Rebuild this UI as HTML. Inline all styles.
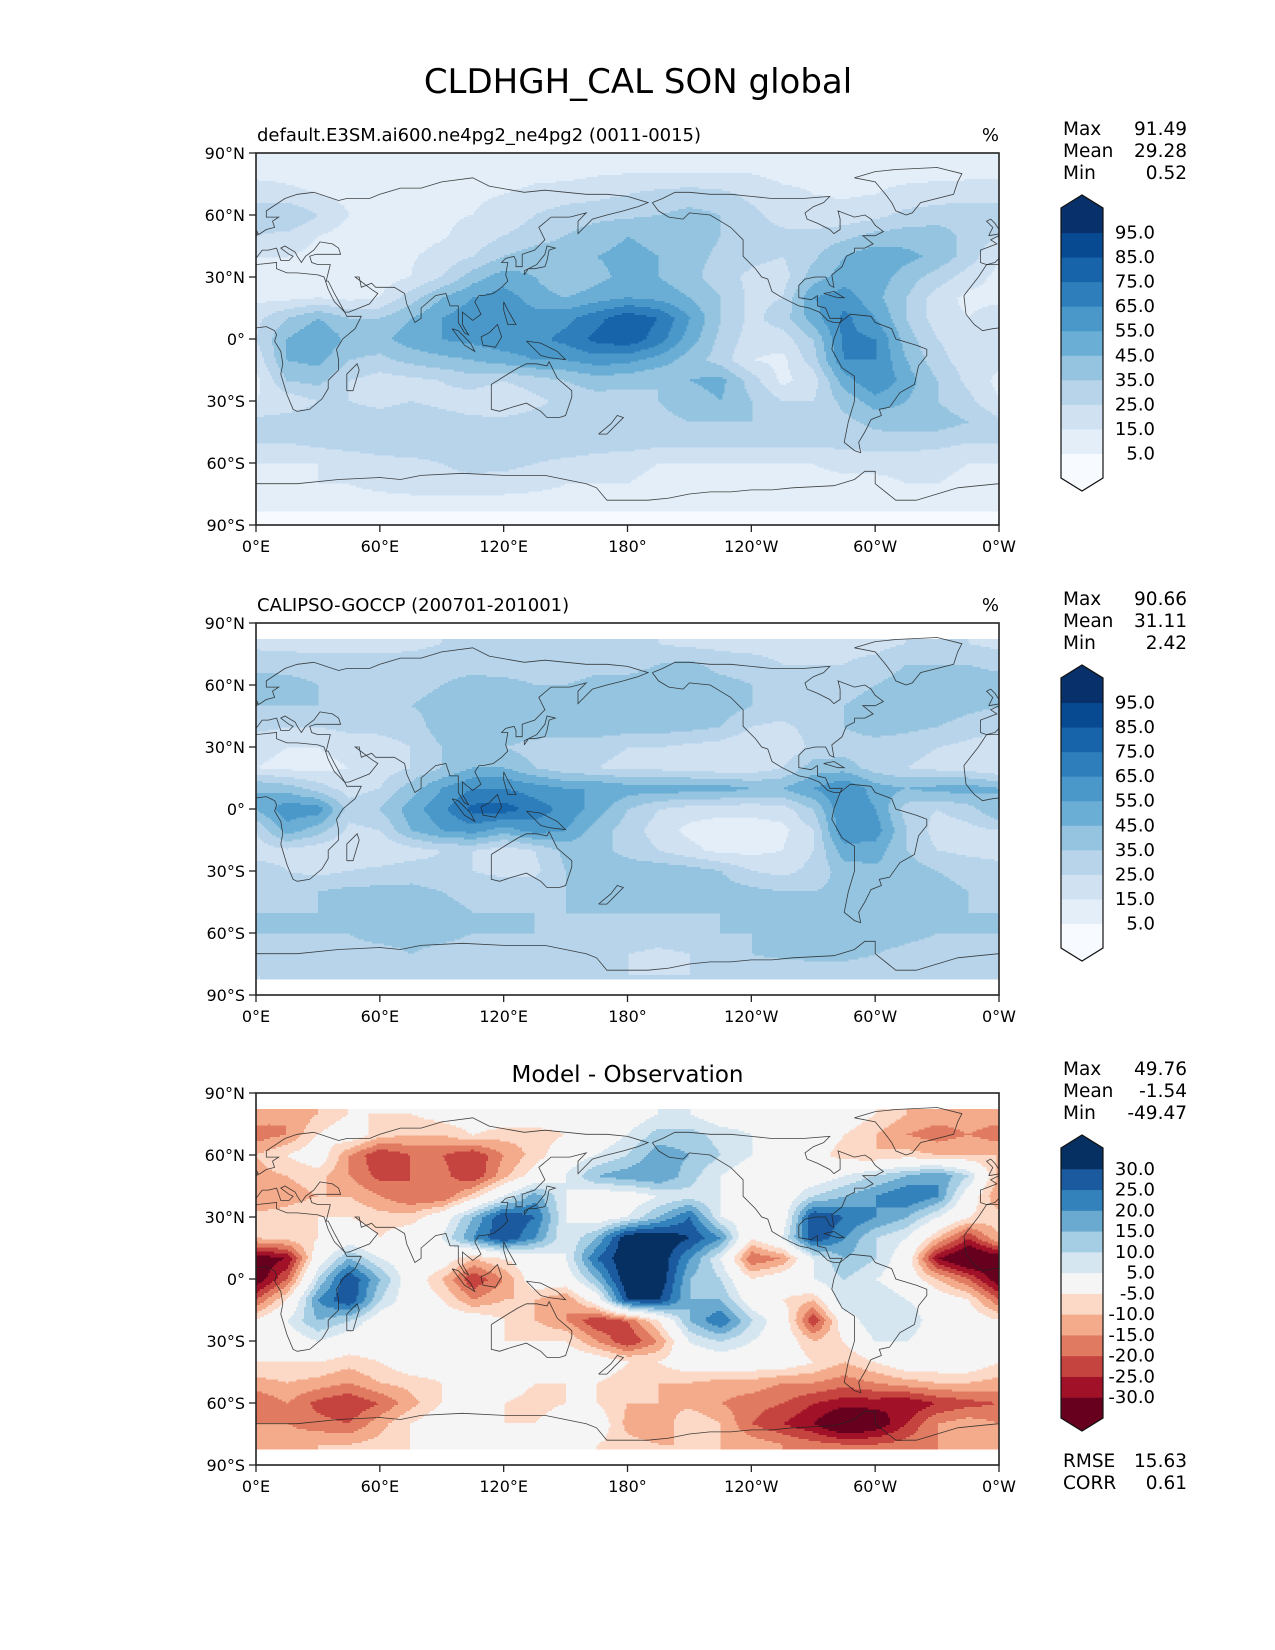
<!DOCTYPE html>
<html><head><meta charset="utf-8"><style>
html,body{margin:0;padding:0;background:#fff;}
svg{display:block;font-family:"DejaVu Sans","Liberation Sans",sans-serif;}
</style></head><body>
<svg id="fig" width="1275" height="1650" viewBox="0 0 1275 1650" xmlns="http://www.w3.org/2000/svg">
<text x="638" y="93" font-size="34" text-anchor="middle">CLDHGH_CAL SON global</text>
</svg>
<script>
// ---- data (grid: lat 90..-90 step 10, lon 0..345 step 15) ----
const gridLats = [90,80,70,60,50,40,30,20,10,0,-10,-20,-30,-40,-50,-60,-70,-80,-90];
const gridLons = [0,15,30,45,60,75,90,105,120,135,150,165,180,195,210,225,240,255,270,285,300,315,330,345];
const modelValues = [
[8,8,8,8,8,8,8,8,8,8,8,8,10,10,10,10,10,10,10,10,10,10,10,10],
[12,12,10,10,10,10,10,10,10,12,12,14,15,15,15,15,15,12,12,12,12,12,12,12],
[22,18,15,12,12,12,12,14,15,18,20,22,25,28,30,28,22,18,15,14,15,18,20,22],
[30,35,25,15,14,14,14,15,18,25,30,32,33,35,38,35,28,20,18,18,22,28,30,30],
[25,22,15,10,10,12,14,18,25,30,35,40,45,42,40,35,30,28,28,32,38,40,40,32],
[15,15,12,10,10,14,18,25,35,40,42,45,48,45,38,33,28,25,33,45,52,48,42,30],
[12,10,10,8,10,15,25,40,50,45,35,42,48,45,38,30,22,20,40,50,50,40,30,20],
[12,12,15,12,15,30,45,55,60,50,45,50,55,52,45,35,22,25,55,60,48,35,20,12],
[22,35,45,35,35,45,55,62,62,60,62,72,82,75,55,35,22,30,50,68,55,35,20,15],
[25,45,55,42,42,50,55,58,62,62,68,78,82,70,50,32,20,20,35,68,65,40,25,20],
[18,45,48,35,32,38,42,45,50,55,55,60,58,50,40,30,15,12,30,65,65,45,28,20],
[12,35,38,25,20,22,25,30,25,30,35,40,38,35,45,48,30,12,20,50,65,50,35,22],
[15,18,25,25,22,25,22,18,15,22,28,30,30,35,40,45,35,25,25,38,50,45,35,28],
[28,30,30,30,30,32,30,28,28,30,32,32,32,32,35,35,35,35,32,32,38,40,40,35],
[25,25,28,30,30,32,32,32,33,33,33,30,30,28,28,28,28,28,28,28,30,30,28,25],
[15,15,15,18,22,22,25,28,28,25,22,20,18,15,15,15,15,15,15,18,18,18,18,15],
[12,12,15,15,18,20,22,22,20,18,15,15,15,12,12,12,12,12,12,12,12,15,15,12],
[10,10,10,10,10,10,10,10,10,10,10,10,10,10,10,10,10,10,10,10,10,10,10,10],
[-5,-5,-5,-5,-5,-5,-5,-5,-5,-5,-5,-5,-5,-5,-5,-5,-5,-5,-5,-5,-5,-5,-5,-5]];
const obsValues = [
[22,22,22,22,22,22,25,25,25,25,25,25,25,25,22,22,22,22,22,22,22,25,25,25],
[22,22,22,22,22,22,25,25,25,25,25,25,25,25,22,22,22,22,22,22,22,25,25,25],
[32,30,28,28,28,30,32,32,30,30,30,32,30,35,38,30,28,25,25,25,28,35,35,35],
[40,40,35,32,30,32,35,38,38,35,35,38,40,42,45,40,35,32,30,30,35,40,40,40],
[35,35,35,32,32,35,38,40,40,42,42,42,45,45,42,40,35,32,32,35,40,42,42,38],
[28,25,25,28,28,30,40,45,45,42,42,42,40,40,38,35,25,22,30,35,40,38,35,30],
[18,15,15,18,20,25,35,35,35,30,28,28,25,25,22,20,15,15,28,30,30,28,25,22],
[15,12,12,15,20,25,35,45,45,35,28,25,22,22,20,18,18,25,40,40,30,25,22,20],
[45,40,30,20,25,40,55,65,65,60,55,55,50,50,50,50,45,45,55,65,50,45,48,50],
[45,62,60,30,35,50,62,78,80,70,62,50,35,25,20,18,18,20,35,65,55,30,25,30],
[25,50,40,22,25,45,55,60,50,60,55,40,30,20,12,10,10,12,25,65,60,35,20,22],
[20,22,18,15,15,20,25,25,18,25,38,38,32,25,18,12,12,15,25,50,50,35,25,22],
[30,25,22,25,28,30,28,25,22,22,35,40,40,42,40,35,25,22,28,40,42,40,35,32],
[32,32,35,38,38,38,35,32,32,32,35,38,40,40,40,40,38,35,35,38,40,40,38,35],
[35,35,35,38,38,38,38,35,35,35,35,35,35,35,35,35,35,35,35,35,38,38,38,35],
[35,35,35,35,38,38,38,35,35,35,32,32,32,32,32,35,35,38,40,42,40,38,35,35],
[30,30,30,32,32,35,32,30,30,28,25,25,25,22,25,30,35,38,40,40,35,32,30,30],
[25,25,25,25,25,25,25,25,25,25,25,25,25,25,25,25,25,25,25,25,25,25,25,25],
[25,25,25,25,25,25,25,25,25,25,25,25,25,25,25,25,25,25,25,25,25,25,25,25]];
const diffValues = [
[-12,-15,-10,-5,-5,-5,-2,0,0,0,0,0,0,5,5,0,0,0,0,0,-5,-10,-12,-12],
[-12,-15,-10,-5,-5,-5,-2,0,0,0,0,0,0,5,5,0,0,0,0,0,-5,-10,-12,-12],
[-18,-15,-5,0,-8,-10,-10,-5,-8,-8,-5,0,5,12,12,8,5,0,0,-5,-10,-15,-18,-15],
[-10,-5,0,-15,-25,-20,-20,-25,-15,-8,0,5,10,18,15,10,5,0,-2,-8,-10,-8,-10,-10],
[-12,-10,-8,-15,-22,-20,-18,-25,-12,-2,5,15,18,20,12,5,0,0,0,5,10,15,20,10],
[-15,-12,-10,-10,-15,-20,-20,-8,5,18,5,0,0,5,8,5,0,0,10,15,20,25,20,0],
[-8,-8,-5,-5,-8,-8,0,15,30,25,5,0,5,15,25,5,0,0,30,25,20,15,5,-5],
[-10,-8,-5,0,-5,0,5,20,30,20,5,15,35,35,30,20,-5,5,30,20,10,5,-10,-25],
[-35,-30,0,15,5,0,0,-10,-5,0,5,25,35,35,20,5,-20,-15,5,15,10,0,-30,-40],
[-35,-20,10,30,15,0,-10,-25,-15,0,0,15,35,35,15,10,-5,0,5,10,5,0,-10,-20],
[-20,-5,20,30,10,0,-5,-15,-10,-10,-15,0,30,30,15,15,0,-5,-10,10,10,5,0,-5],
[-5,5,15,10,0,0,0,0,-5,-10,-15,-25,-20,-5,15,25,10,0,-25,0,10,10,0,0],
[0,0,5,0,0,5,0,-5,-5,-5,-5,-15,-25,-15,5,10,5,0,-10,-5,5,5,0,0],
[-5,-5,-5,-8,-5,0,0,0,0,0,0,0,-5,-5,0,0,0,0,-5,-10,-5,0,0,0],
[-12,-10,-12,-15,-10,-8,-5,-5,0,-5,-5,-5,-8,-10,-10,-12,-12,-15,-15,-18,-15,-12,-10,-10],
[-20,-15,-22,-25,-20,-12,-5,-5,-5,-8,-5,-5,-10,-10,-12,-15,-18,-20,-25,-28,-28,-30,-25,-22],
[-15,-15,-18,-20,-12,-5,0,0,-5,-5,0,0,-12,-15,-5,-10,-20,-25,-30,-40,-35,-25,-15,-12],
[-12,-12,-10,-10,-8,-5,-5,-5,-5,-5,-5,-5,-8,-10,-10,-10,-12,-15,-18,-20,-20,-18,-15,-12],
[-12,-12,-10,-10,-8,-5,-5,-5,-5,-5,-5,-5,-8,-10,-10,-10,-12,-15,-18,-20,-20,-18,-15,-12]];
const fieldLevels = [5,15,25,35,45,55,65,75,85,95];
const fieldLabels = ["5.0","15.0","25.0","35.0","45.0","55.0","65.0","75.0","85.0","95.0"];
const diffLevels = [-30,-25,-20,-15,-10,-5,5,10,15,20,25,30];
const diffLabels = ["-30.0","-25.0","-20.0","-15.0","-10.0","-5.0","5.0","10.0","15.0","20.0","25.0","30.0"];
const xTickLons = [0,60,120,180,240,300,360];
const xTickLabels = ["0°E","60°E","120°E","180°","120°W","60°W","0°W"];
const yTickLats = [90,60,30,0,-30,-60,-90];
const yTickLabels = ["90°N","60°N","30°N","0°","30°S","60°S","90°S"];
const statsModel = ["91.49","29.28","0.52"];
const statsObs = ["90.66","31.11","2.42"];
const statsDiff = ["49.76","-1.54","-49.47"];
const diffMetrics = ["15.63","0.61"];

const BLUES = ['#f7fbff','#e3eef8','#d0e1f2','#b7d4ea','#94c4df','#6aaed6','#4a98c9','#2e7ebc','#1764ab','#084a91','#08306b'];
const RDBU = ['#67001f','#a11228','#c6443f','#e07b62','#f4ab8b','#fbd9c6','#f5f5f5','#d5e6f1','#a5cde3','#6aaad0','#3482bb','#1c5a9f','#053061'];

const coasts = [
[[-17,21],[-16,12],[-12,7],[-8,4],[-3,5],[5,6],[9,4],[10,2],[9,-1],[12,-6],[13,-12],[12,-17],[15,-27],[18,-34],[20,-35],[26,-34],[32,-29],[35,-24],[35,-20],[40,-15],[40,-10],[39,-5],[42,0],[48,5],[51,11],[44,11],[43,13],[38,18],[35,24],[33,30],[30,31],[20,32],[15,32],[10,34],[10,37],[0,36],[-6,36],[-10,30],[-17,21]],
[[44,-25],[47,-25],[50,-15],[49,-12],[44,-17],[44,-25]],
[[-9,37],[-9,43],[-1,46],[-4,48],[2,51],[5,53],[9,54],[8,57],[11,59],[5,59],[5,62],[14,68],[20,70],[28,71],[40,67],[44,68],[55,68],[60,70],[70,73],[80,73],[90,76],[105,78],[113,74],[130,71],[140,72],[160,70],[170,70],[180,69],[190,66],[185,64],[178,62],[170,60],[163,58],[156,51],[156,57],[160,61],[152,59],[143,59],[137,54],[140,48],[135,43],[129,41],[129,35],[126,35],[126,38],[125,40],[121,39],[119,37],[122,37],[121,31],[122,28],[119,25],[115,22],[110,21],[108,21],[106,18],[109,12],[105,9],[100,13],[100,7],[103,2],[101,3],[98,8],[98,16],[94,16],[92,22],[87,21],[80,15],[80,10],[77,8],[73,17],[72,22],[67,25],[58,25],[56,27],[51,25],[50,30],[48,30],[56,24],[59,22],[55,17],[45,13],[43,13],[38,22],[35,28],[34,28],[35,32],[36,36],[30,36],[27,37],[26,40],[29,41],[41,41],[40,44],[37,46],[31,47],[28,43],[24,40],[22,37],[20,40],[19,42],[14,45],[12,44],[16,41],[18,40],[16,38],[12,38],[10,44],[6,43],[3,43],[0,39],[-2,37],[-6,36],[-9,37]],
[[-5,50],[1,51],[0,53],[-2,56],[-4,58],[-6,57],[-3,54],[-5,50]],
[[130,31],[132,34],[135,34],[140,35],[141,38],[142,43],[145,44],[141,45],[140,41],[136,36],[130,33],[130,31]],
[[109,1],[110,-3],[116,-4],[119,1],[117,7],[113,3],[109,1]],
[[95,5],[98,4],[104,-2],[106,-6],[101,-3],[95,5]],
[[131,-1],[138,-2],[146,-6],[150,-10],[142,-9],[138,-8],[131,-1]],
[[120,18],[122,14],[126,7],[122,7],[120,14],[120,18]],
[[114,-22],[114,-34],[118,-35],[124,-33],[131,-31],[138,-35],[141,-38],[147,-38],[150,-37],[153,-28],[153,-25],[146,-19],[142,-11],[141,-13],[136,-12],[131,-12],[127,-14],[122,-17],[114,-22]],
[[166,-46],[172,-41],[175,-37],[178,-38],[174,-42],[170,-46],[166,-46]],
[[-168,66],[-165,62],[-160,59],[-153,58],[-150,61],[-140,60],[-135,57],[-130,54],[-124,48],[-124,40],[-118,34],[-115,30],[-112,29],[-110,23],[-105,20],[-97,16],[-92,15],[-87,13],[-83,9],[-80,8],[-77,8],[-76,10],[-82,10],[-84,15],[-88,16],[-88,21],[-91,19],[-97,20],[-97,26],[-94,29],[-89,30],[-84,30],[-82,26],[-80,25],[-81,31],[-76,35],[-74,40],[-70,42],[-70,44],[-65,44],[-61,46],[-66,50],[-60,50],[-56,52],[-60,55],[-62,58],[-65,60],[-70,59],[-78,62],[-77,58],[-77,53],[-80,51],[-82,53],[-88,56],[-93,58],[-94,61],[-90,64],[-85,66],[-82,69],[-95,68],[-100,68],[-110,68],[-120,69],[-130,70],[-140,70],[-150,71],[-157,71],[-163,68],[-168,66]],
[[-45,60],[-42,61],[-38,66],[-22,70],[-20,76],[-18,80],[-30,83],[-50,82],[-60,81],[-70,78],[-60,76],[-55,70],[-52,66],[-50,62],[-45,60]],
[[-77,8],[-80,0],[-81,-5],[-76,-14],[-70,-18],[-70,-30],[-73,-40],[-75,-50],[-70,-54],[-67,-55],[-68,-50],[-65,-45],[-62,-39],[-57,-37],[-58,-34],[-53,-33],[-48,-26],[-41,-22],[-39,-13],[-35,-8],[-35,-5],[-40,-3],[-50,0],[-52,5],[-60,8],[-62,11],[-72,12],[-77,8]],
[[-85,22],[-80,23],[-75,20],[-78,20],[-85,22]],
[[0,-70],[20,-70],[40,-68],[60,-67],[70,-68],[80,-66],[100,-65],[120,-66],[140,-66],[160,-70],[165,-72],[170,-78],[180,-78],[190,-78],[200,-77],[210,-75],[220,-74],[230,-74],[240,-73],[250,-73],[260,-72],[280,-71],[290,-68],[295,-64],[300,-64],[300,-70],[310,-78],[320,-78],[330,-75],[340,-72],[350,-71],[360,-70]]
];

const NS = 'http://www.w3.org/2000/svg';
const svg = document.getElementById('fig');
const L = 256, W = 743, H = 372;
function mk(tag, attrs, parent){ const e=document.createElementNS(NS,tag); for(const k in attrs) e.setAttribute(k,attrs[k]); (parent||svg).appendChild(e); return e; }
function txt(x,y,s,size,anchor,parent){ const e=mk('text',{x:x,y:y,'font-size':size,'text-anchor':anchor||'start'},parent); e.textContent=s; return e; }

function sample(grid, lon, lat){
  let fi=(90-lat)/10; if(fi<0)fi=0; if(fi>18)fi=18;
  let i0=Math.floor(fi); if(i0>17)i0=17; const ti=fi-i0;
  const fj=(((lon%360)+360)%360)/15; const j0=Math.floor(fj)%24; const tj=fj-Math.floor(fj); const j1=(j0+1)%24;
  const a=grid[i0][j0]*(1-tj)+grid[i0][j1]*tj;
  const b=grid[i0+1][j0]*(1-tj)+grid[i0+1][j1]*tj;
  return a*(1-ti)+b*ti;
}
function levelIndex(levels, v){ let k=0; for(const b of levels){ if(v>=b)k++; } return k; }

function drawPanel(p){
  const T=p.top;
  const g=mk('g',{});
  
  
  const cid='clip'+p.id;
  const cp=mk('clipPath',{id:cid},g); mk('rect',{x:L,y:T,width:W,height:H},cp);
  const field=mk('g',{'clip-path':'url(#'+cid+')'},g);
  
  
  const step=2;
  const dparts=p.colors.map(()=>[]);
  for(let py=0; py<H; py+=step){
    const lat=90-(py+step/2)/H*180;
    if(p.mask && Math.abs(lat)>82.5) continue;
    let runStart=0, runIdx=-1;
    const nx=Math.ceil(W/step)+1;
    for(let k=0; k<=nx; k++){
      const px=k*step;
      let idx=-2;
      if(k<nx){ const lon=(px+step/2)/W*360; idx=levelIndex(p.levels, sample(p.grid, lon, lat)); }
      if(idx!==runIdx){
        if(runIdx>=0){
          dparts[runIdx].push('M'+(L+runStart)+' '+(T+py)+'h'+(px-runStart+0.5)+'v'+(step+0.5)+'h'+(-(px-runStart+0.5))+'z');
        }
        runStart=px; runIdx=idx;
      }
    }
  }
  dparts.forEach((parts,k)=>{
    if(!parts.length) return;
    const pa=mk('path',{d:parts.join(''),fill:p.colors[k]},field);
    
    
  });
  // coastlines
  const cg=mk('g',{'clip-path':'url(#'+cid+')',fill:'none',stroke:'#222','stroke-width':0.8,'stroke-opacity':0.85},g);
  
  
  for(const c of coasts){
    for(const off of [-360,0,360]){
      const pts=c.map(q=>((L+(q[0]+off)/360*W).toFixed(1))+','+((T+(90-q[1])/180*H).toFixed(1))).join(' ');
      mk('polyline',{points:pts},cg);
    }
  }
  const fr=mk('rect',{x:L,y:T,width:W,height:H,fill:'none',stroke:'#222','stroke-width':1.6},g);
  
  
  const tg=mk('g',{},g);
  
  
  xTickLons.forEach((lon,k)=>{
    const x=L+lon/360*W;
    mk('line',{x1:x,y1:T+H,x2:x,y2:T+H+7,stroke:'#222','stroke-width':1.3},tg);
    const t=txt(x,T+H+27,xTickLabels[k],16,'middle',tg);
    
    
  });
  yTickLats.forEach((lat,k)=>{
    const y=T+(90-lat)/180*H;
    mk('line',{x1:L-7,y1:y,x2:L,y2:y,stroke:'#222','stroke-width':1.3},tg);
    const t=txt(L-11,y+6,yTickLabels[k],16,'end',tg);
    
    
  });
  if(p.center){
    const t=txt(L+W/2,T-11,p.title,23,'middle',g);
    
    
  } else {
    const t=txt(L+1,T-12,p.title,18,'start',g);
    
    
    const u=txt(L+W,T-12,'%',18,'end',g);
    
    
  }
  const sg=mk('g',{},g);
  
  
  ['Max','Mean','Min'].forEach((lab,k)=>{
    txt(1063,T-18+k*22,lab,18.5,'start',sg);
    txt(1187,T-18+k*22,p.stats[k],18.5,'end',sg);
  });
  const cb=mk('g',{},g);
  
  
  const bx=1061,bw=42,by=T+55,bh=270,n=p.colors.length,seg=bh/n,cx=bx+bw/2;
  for(let k=0;k<n;k++){
    const y=by+bh-(k+1)*seg;
    mk('rect',{x:bx,y:y,width:bw,height:seg+0.5,fill:p.colors[k]},cb);
  }
  mk('polygon',{points:`${bx},${by} ${cx},${by-13} ${bx+bw},${by}`,fill:p.colors[n-1]},cb);
  mk('polygon',{points:`${bx},${by+bh} ${cx},${by+bh+13} ${bx+bw},${by+bh}`,fill:p.colors[0]},cb);
  mk('polygon',{points:`${bx},${by} ${cx},${by-13} ${bx+bw},${by} ${bx+bw},${by+bh} ${cx},${by+bh+13} ${bx},${by+bh}`,fill:'none',stroke:'#111','stroke-width':1.2},cb);
  p.levels.forEach((lv,k)=>{
    const y=by+bh-(k+1)*seg;
    const t=txt(1155,y+6,p.labels[k],18,'end',cb);
    
    
  });
  if(p.metrics){
    ['RMSE','CORR'].forEach((lab,k)=>{
      const a=txt(1063,T+H+2+k*22,lab,18.5,'start',g);
      
      
      const b=txt(1187,T+H+2+k*22,p.metrics[k],18.5,'end',g);
      
      
    });
  }
}

drawPanel({id:'model',name:'model-map-panel',top:153,grid:modelValues,levels:fieldLevels,labels:fieldLabels,colors:BLUES,mask:false,title:'default.E3SM.ai600.ne4pg2_ne4pg2 (0011-0015)',stats:statsModel});
drawPanel({id:'obs',name:'observation-map-panel',top:623,grid:obsValues,levels:fieldLevels,labels:fieldLabels,colors:BLUES,mask:true,title:'CALIPSO-GOCCP (200701-201001)',stats:statsObs});
drawPanel({id:'diff',name:'difference-map-panel',top:1093,grid:diffValues,levels:diffLevels,labels:diffLabels,colors:RDBU,mask:true,center:true,title:'Model - Observation',stats:statsDiff,metrics:diffMetrics});
</script>
</body></html>
